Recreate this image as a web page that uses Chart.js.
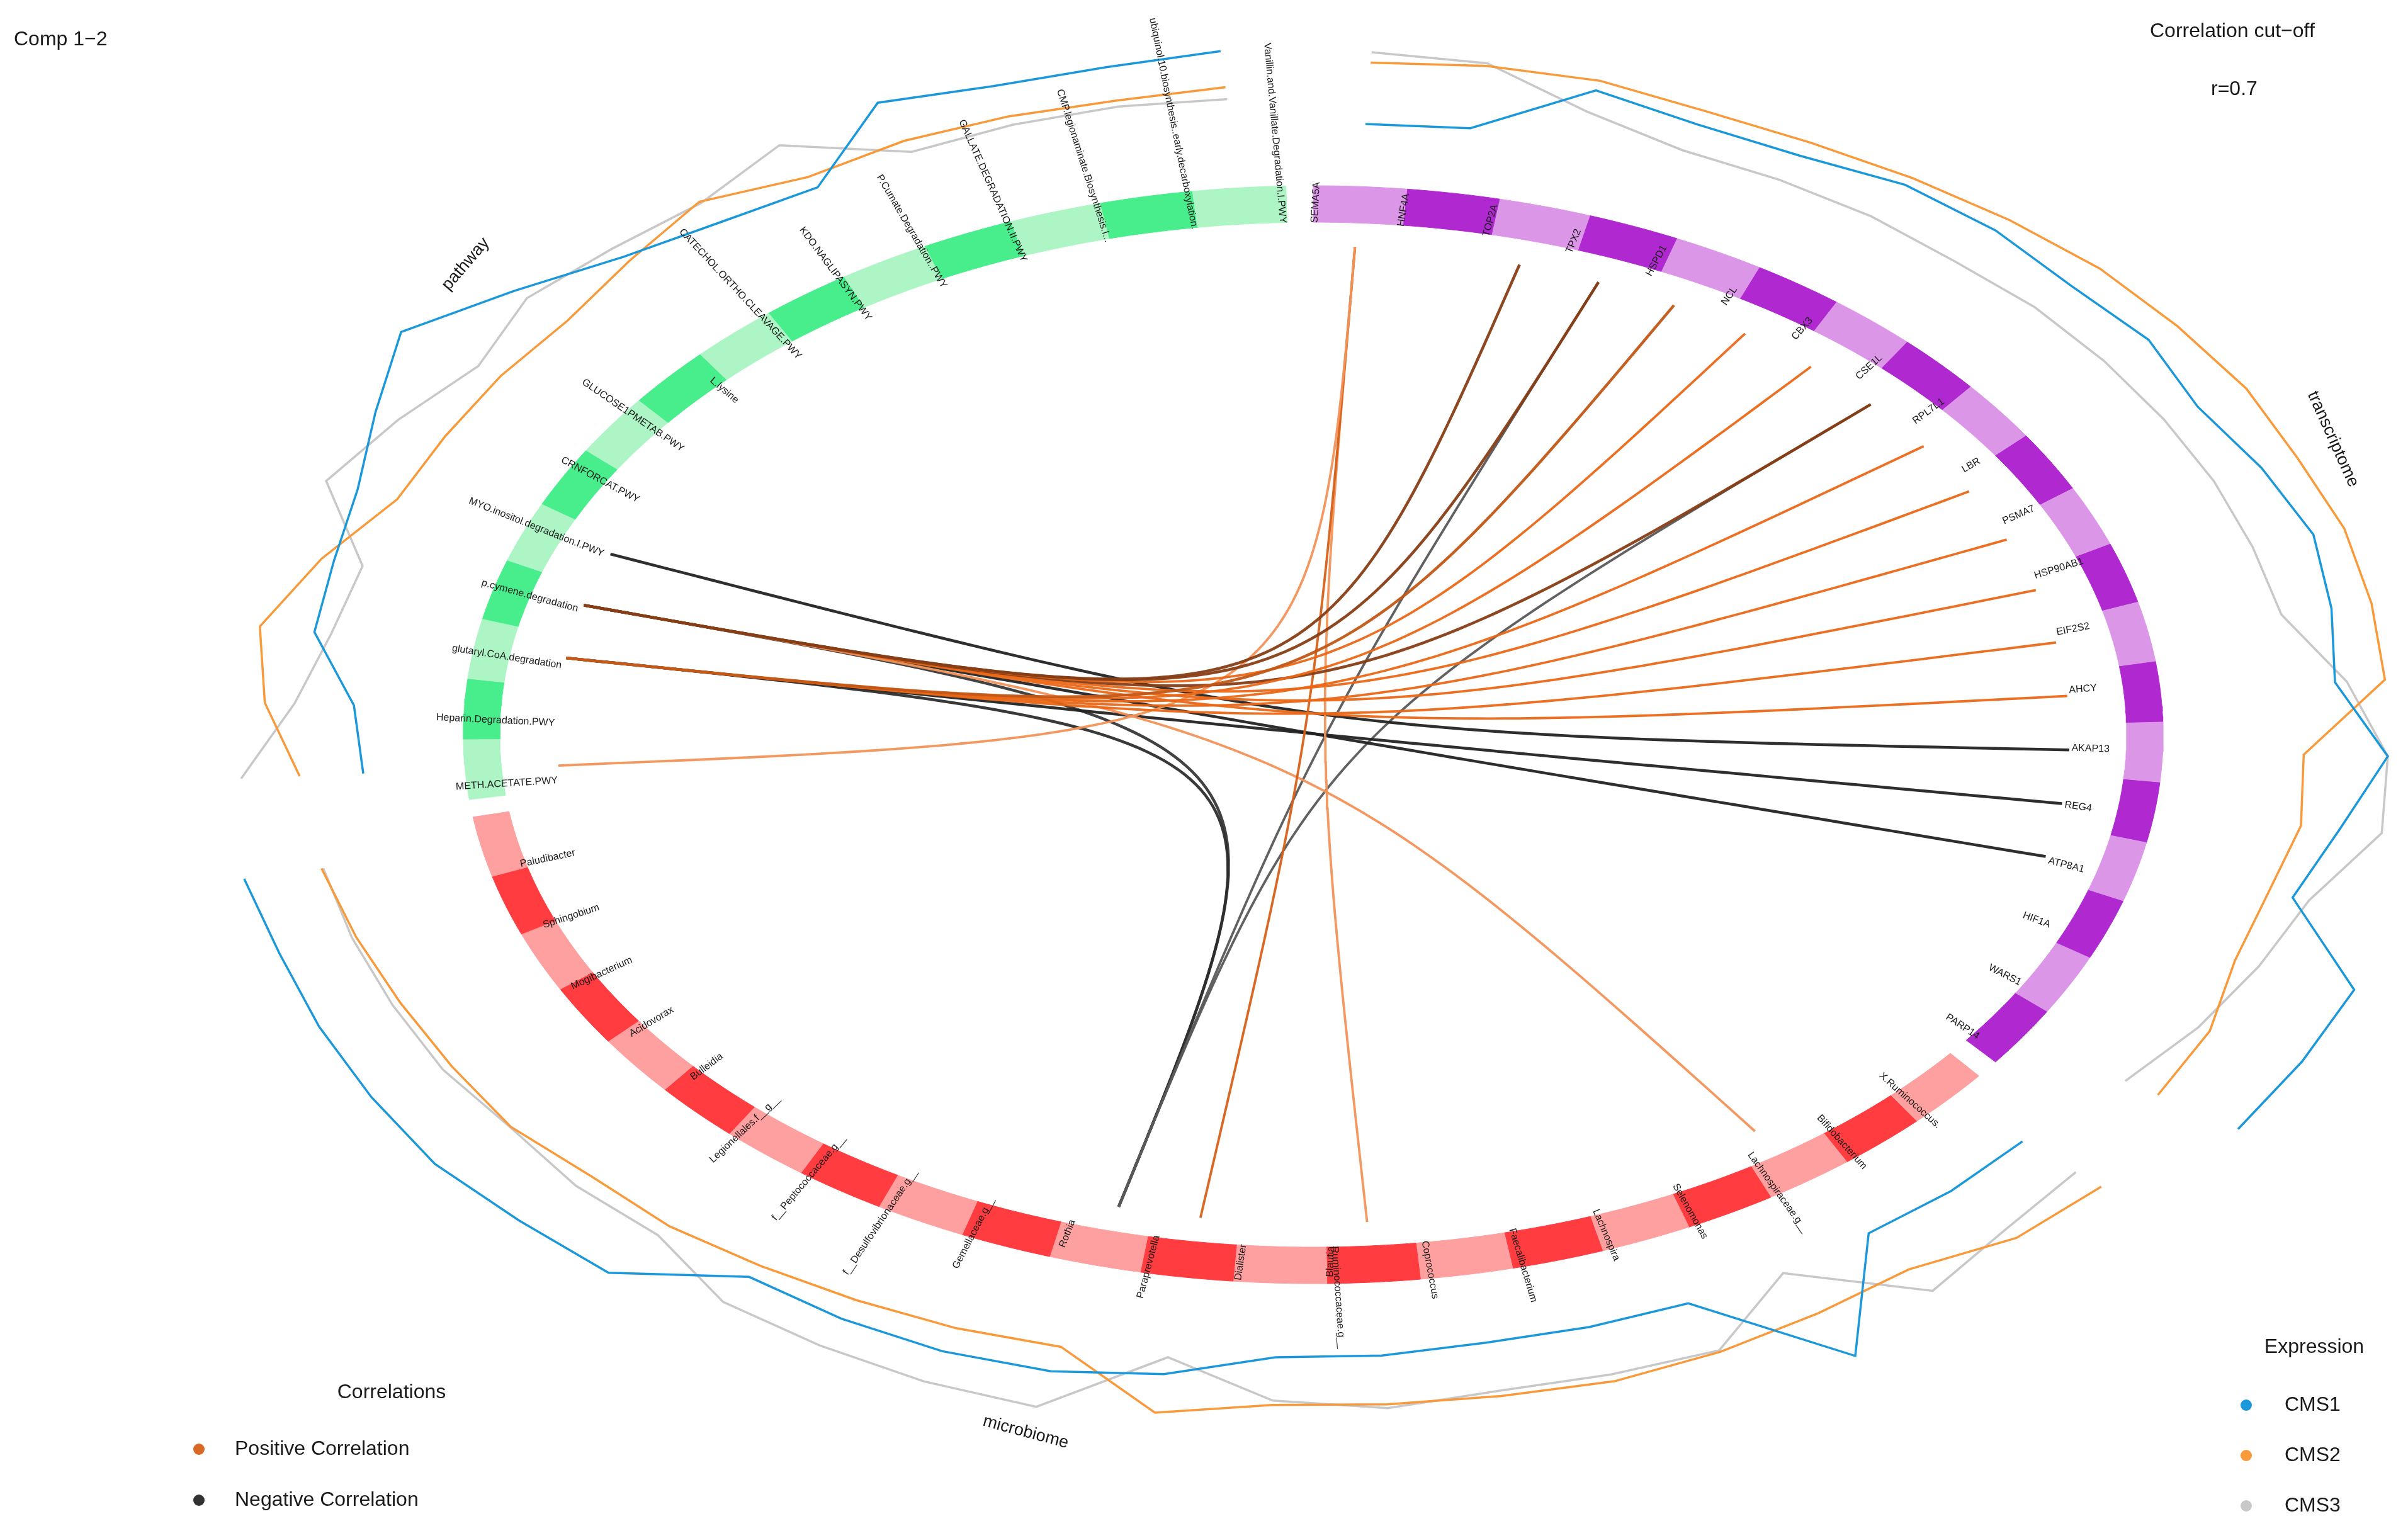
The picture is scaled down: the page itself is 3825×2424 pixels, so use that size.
<!DOCTYPE html>
<html>
<head>
<meta charset="utf-8">
<script src="https://cdn.jsdelivr.net/npm/chart.js@4.4.1/dist/chart.umd.min.js"></script>
<style>
html, body { margin: 0; padding: 0; background: #ffffff; }
#wrap { width: 3825px; height: 2424px; }
</style>
</head>
<body>
<div id="wrap"><canvas id="circos"></canvas></div>
<script>
// ---- data ----
var pathwayNames = ['Vanillin.and.Vanillate.Degradation.I.PWY', 'ubiquinol.10.biosynthesis..early.decarboxylation.',
  'CMP.legionaminate.Biosynthesis.I...', 'GALLATE.DEGRADATION.II.PWY', 'P.Cumate.Degradation..PWY',
  'KDO.NAGLIPASYN.PWY', 'CATECHOL.ORTHO.CLEAVAGE.PWY', 'L.lysine', 'GLUCOSE1PMETAB.PWY', 'CRNFORCAT.PWY',
  'MYO.inositol.degradation.I.PWY', 'p.cymene.degradation', 'glutaryl.CoA.degradation',
  'Heparin.Degradation.PWY', 'METH.ACETATE.PWY'];
var microbiomeNames = ['Paludibacter', 'Sphingobium', 'Mogibacterium', 'Acidovorax', 'Bulleidia',
  'Legionellales.f__g__', 'f__Peptococcaceae.g__', 'f__Desulfovibrionaceae.g__', 'Gemellaceae.g__',
  'Rothia', 'Paraprevotella', 'Dialister', 'Blautia', 'Ruminococcaceae.g__', 'Coprococcus',
  'Faecalibacterium', 'Lachnospira', 'Selenomonas', 'Lachnospiraceae.g__', 'Bifidobacterium', 'X.Ruminococcus.'];
var transcriptomeNames = ['SEMA5A', 'HNF4A', 'TOP2A', 'TPX2', 'HSPD1', 'NCL', 'CBX3', 'CSE1L', 'RPL7L1', 'LBR',
  'PSMA7', 'HSP90AB1', 'EIF2S2', 'AHCY', 'AKAP13', 'REG4', 'ATP8A1', 'HIF1A', 'WARS1', 'PARP14'];

// mean expression per subtype (scaled), one value per feature
var pathwayCMS1 = [0.45, 0.35, 0.35, 0.55, -0.5, -0.4, -0.15, 0.35, 0.95, 0.45, 0.05, -0.1, -0.15, -0.75, -0.85];
var pathwayCMS2 = [-0.21, -0.27, -0.23, -0.21, -0.28, 0.05, -0.25, -0.48, -0.47, -0.48, -0.45, 0.05, 0.5, 0.3, -0.1];
var pathwayCMS3 = [-0.43, -0.38, -0.39, -0.43, 0.39, 0.02, 0.05, 0.15, -0.15, 0.15, 0.45, -0.45, -0.35, -0.05, 0.59];
var microbiomeCMS1 = [0.8, 0.75, 0.8, 0.85, 0.91, 0.82, 0.79, -0.15, -0.05, 0, -0.05, -0.27, -0.7, -0.71, -0.79, -0.78, -0.79, 0.94, -0.86, -0.85, -0.89];
var microbiomeCMS2 = [-0.13, -0.2, -0.25, -0.25, -0.21, -0.35, -0.32, -0.39, -0.43, -0.45, -0.51, 0.44, 0.17, 0.18, 0.2, 0.25, 0.17, 0.05, -0.05, 0.3, 0.35];
var microbiomeCMS3 = [-0.15, -0.15, -0.15, -0.13, -0.2, -0.1, -0.11, 0.4, 0.5, 0.59, 0.62, -0.58, 0.09, 0.25, 0.1, 0.12, 0.14, -0.79, 0.43, 0.1, -0.05];
var transcriptomeCMS1 = [-0.91, -0.85, 0.15, -0.05, -0.05, 0.15, 0.15, 0.05, 0.13, -0.05, 0.12, 0.27, 0.15, 0.01, 0.6, 0.15, -0.15, 1.05, 1.02, 0.99];
var transcriptomeCMS2 = [0.21, 0.3, 0.33, 0.21, 0.22, 0.3, 0.4, 0.51, 0.55, 0.61, 0.58, 0.65, 0.63, 0.6, -0.39, -0.31, -0.45, -0.45, -0.2, -0.14];
var transcriptomeCMS3 = [0.4, 0.35, -0.25, -0.55, -0.55, -0.55, -0.59, -0.53, -0.52, -0.51, -0.49, -0.48, -0.45, 0.15, 0.6, 0.65, 0.05, -0.15, -0.35, -0.6];

// correlations above the cut-off
var linkFrom = ['p.cymene.degradation', 'p.cymene.degradation', 'glutaryl.CoA.degradation', 'p.cymene.degradation',
  'glutaryl.CoA.degradation', 'p.cymene.degradation', 'glutaryl.CoA.degradation', 'p.cymene.degradation',
  'glutaryl.CoA.degradation', 'p.cymene.degradation', 'glutaryl.CoA.degradation', 'p.cymene.degradation',
  'METH.ACETATE.PWY', 'Dialister', 'Ruminococcaceae.g__', 'Lachnospiraceae.g__',
  'MYO.inositol.degradation.I.PWY', 'glutaryl.CoA.degradation', 'p.cymene.degradation', 'Paraprevotella',
  'Paraprevotella', 'glutaryl.CoA.degradation', 'p.cymene.degradation'];
var linkTo = ['TOP2A', 'TPX2', 'HSPD1', 'NCL', 'CBX3', 'CSE1L', 'RPL7L1', 'LBR', 'PSMA7', 'HSP90AB1', 'EIF2S2', 'AHCY',
  'SEMA5A', 'SEMA5A', 'SEMA5A', 'p.cymene.degradation',
  'AKAP13', 'REG4', 'ATP8A1', 'TPX2', 'CSE1L', 'Paraprevotella', 'Paraprevotella'];
var linkCor = [0.88, 0.88, 0.82, 0.78, 0.78, 0.88, 0.78, 0.78, 0.78, 0.78, 0.78, 0.78,
  0.72, 0.8, 0.72, 0.72,
  -0.86, -0.86, -0.86, -0.76, -0.76, -0.84, -0.82];

// ---- layout ----
var W = 3825, H = 2424;
var CX = 2086, CY = 1167, RX = 1350, RY = 872, RING = 58;
var STEP = 6.33, GAP = 1.84;
var LINK_K = 0.89, TRACK_K = 1.205, TRACK_SPAN = 0.1;
var LAB_RX = 1205, LAB_RY = 813;
var FONT = '"Liberation Sans", Arial, Helvetica, sans-serif';

var blocks = [
  { title: 'pathway', titleAt: 0.5, names: pathwayNames, start: 90 + GAP, dir: 1, light: '#ADF5C5', dark: '#48EE8C',
    series: [pathwayCMS1, pathwayCMS2, pathwayCMS3] },
  { title: 'microbiome', titleAt: 0.5, names: microbiomeNames, start: 90 + GAP + pathwayNames.length * STEP + GAP, dir: 1,
    light: '#FFA0A0', dark: '#FF3C40', series: [microbiomeCMS1, microbiomeCMS2, microbiomeCMS3] },
  { title: 'transcriptome', titleAt: 0.52, names: transcriptomeNames, start: 90, dir: -1, light: '#DC96E8', dark: '#B028D0',
    series: [transcriptomeCMS1, transcriptomeCMS2, transcriptomeCMS3] }
];
var groupNames = ['CMS1', 'CMS2', 'CMS3'];
var groupColors = ['#1B98D9', '#F8993A', '#C8C8C8'];

function rad(d) { return d * Math.PI / 180; }
function pt(t, k, off) {
  off = off || 0;
  return { x: CX + (RX * k - off) * Math.cos(rad(t)), y: CY - (RY * k - off) * Math.sin(rad(t)) };
}
function norm(t) { t = t % 360; return t < 0 ? t + 360 : t; }

var featAngle = {};
blocks.forEach(function (b) {
  b.t0 = []; b.t1 = []; b.tc = [];
  b.names.forEach(function (n, i) {
    var a0 = b.start + b.dir * i * STEP, a1 = a0 + b.dir * STEP;
    b.t0.push(a0); b.t1.push(a1); b.tc.push((a0 + a1) / 2);
    featAngle[n] = (a0 + a1) / 2;
  });
});

var datasets = [];
// ring segments
blocks.forEach(function (b) {
  b.names.forEach(function (n, i) {
    var pts = [], s;
    for (s = 0; s <= 12; s++) pts.push(pt(b.t0[i] + (b.t1[i] - b.t0[i]) * s / 12, 1, 0));
    for (s = 12; s >= 0; s--) pts.push(pt(b.t0[i] + (b.t1[i] - b.t0[i]) * s / 12, 1, RING));
    pts.push(pts[0]);
    var col = i % 2 === 0 ? b.light : b.dark;
    datasets.push({ data: pts, showLine: true, fill: 'shape', backgroundColor: col, borderColor: col,
      borderWidth: 1, pointRadius: 0, tension: 0, order: 3 });
  });
});
// expression tracks
blocks.forEach(function (b) {
  b.series.forEach(function (vals, g) {
    var pts = vals.map(function (v, i) { return pt(b.tc[i], TRACK_K + v * TRACK_SPAN, 0); });
    datasets.push({ data: pts, showLine: true, fill: false, borderColor: groupColors[g], borderWidth: 3.5,
      pointRadius: 0, tension: 0, order: 2 });
  });
});
// correlation links: cubic curves pulled through the centre
function mix(a, b, f) { return a.map(function (v, i) { return Math.round(v + (b[i] - v) * f); }); }
function corColor(r) {
  var c;
  if (r > 0) {
    c = r < 0.78 ? mix([245, 160, 110], [234, 104, 24], (r - 0.7) / 0.08) : mix([234, 104, 24], [135, 62, 22], Math.min(1, (r - 0.78) / 0.1));
  } else {
    c = mix([120, 120, 120], [35, 35, 35], Math.min(1, (-r - 0.7) / 0.16));
  }
  return 'rgba(' + c.join(',') + ',0.95)';
}
linkFrom.forEach(function (f, i) {
  var p0 = pt(featAngle[f], LINK_K, 0), p2 = pt(featAngle[linkTo[i]], LINK_K, 0);
  var pts = [];
  for (var s = 0; s <= 80; s++) {
    var u = s / 80, a = Math.pow(1 - u, 3), m = 3 * u * (1 - u), c = u * u * u;
    pts.push({ x: a * p0.x + m * CX + c * p2.x, y: a * p0.y + m * CY + c * p2.y });
  }
  datasets.push({ data: pts, showLine: true, fill: false, borderColor: corColor(linkCor[i]),
    borderWidth: Math.abs(linkCor[i]) > 0.8 ? 4.5 : 3.8, pointRadius: 0, tension: 0, order: 1 });
});

// label anchor drift along the circle (degrees)
var SHIFT_KNOTS = [[0, 0.3], [88, 3.1], [90, 3.1], [90.001, -3], [114, -1.6], [126, -0.9], [145, 0.5], [157, 1.0],
  [182, 1.5], [223, 1.7], [255, 3.0], [270, 3.7], [270.001, -2.8], [280, -2], [286, -1.6], [318, 0], [360, 0.3]];
function labelShift(t) {
  for (var i = 1; i < SHIFT_KNOTS.length; i++) {
    if (t <= SHIFT_KNOTS[i][0]) {
      var a = SHIFT_KNOTS[i - 1], b = SHIFT_KNOTS[i];
      return a[1] + (b[1] - a[1]) * (t - a[0]) / (b[0] - a[0]);
    }
  }
  return 0;
}

var textPlugin = {
  id: 'circosText',
  afterDraw: function (chart) {
    var ctx = chart.ctx, sx = chart.scales.x, sy = chart.scales.y;
    function P(x, y) { return { x: sx.getPixelForValue(x), y: sy.getPixelForValue(y) }; }
    ctx.save();
    ctx.fillStyle = '#1a1a1a';
    // feature labels
    ctx.font = '16px ' + FONT;
    ctx.textBaseline = 'middle';
    blocks.forEach(function (b) {
      b.names.forEach(function (n, i) {
        var t = norm(b.tc[i]);
        var u = t + labelShift(t);
        var p = P(CX + LAB_RX * Math.cos(rad(u)), CY - LAB_RY * Math.sin(rad(u)));
        ctx.save();
        ctx.translate(p.x, p.y);
        if (Math.cos(rad(t)) < 0) { ctx.rotate(-rad(t + 180)); ctx.textAlign = 'right'; }
        else { ctx.rotate(-rad(t)); ctx.textAlign = 'left'; }
        ctx.fillText(n, 0, 0);
        ctx.restore();
      });
    });
    // block titles
    ctx.font = '27px ' + FONT;
    ctx.textAlign = 'center';
    blocks.forEach(function (b) {
      var span = b.t1[b.names.length - 1] - b.t0[0];
      var tc = norm(b.t0[0] + span * b.titleAt);
      var q = pt(tc, 1.315, 0), p = P(q.x, q.y);
      ctx.save();
      ctx.translate(p.x, p.y);
      ctx.rotate(Math.sin(rad(tc)) >= 0 ? -rad(tc - 90) : -rad(tc + 90));
      ctx.fillText(b.title, 0, 0);
      ctx.restore();
    });
    // titles and legends
    ctx.font = '32px ' + FONT;
    ctx.textAlign = 'left';
    ctx.fillText('Comp 1\u22122', 22, 63);
    ctx.fillText('Correlation cut\u2212off', 3415, 50);
    ctx.fillText('r=0.7', 3512, 142);
    ctx.textAlign = 'center';
    ctx.fillText('Correlations', 622, 2212);
    ctx.fillText('Expression', 3676, 2140);
    ctx.textAlign = 'left';
    var corLeg = [['Positive Correlation', corColor(0.8)], ['Negative Correlation', '#333333']];
    corLeg.forEach(function (e, i) {
      var y = 2302 + i * 81;
      ctx.fillStyle = e[1];
      ctx.beginPath(); ctx.arc(316, y, 9, 0, 2 * Math.PI); ctx.fill();
      ctx.fillStyle = '#1a1a1a';
      ctx.fillText(e[0], 373, y);
    });
    groupNames.forEach(function (g, i) {
      var y = 2232 + i * 80;
      ctx.fillStyle = groupColors[i];
      ctx.beginPath(); ctx.arc(3568, y, 9, 0, 2 * Math.PI); ctx.fill();
      ctx.fillStyle = '#1a1a1a';
      ctx.fillText(g, 3629, y);
    });
    ctx.restore();
  }
};

Chart.defaults.font.family = FONT;
new Chart(document.getElementById('circos'), {
  type: 'scatter',
  data: { datasets: datasets },
  options: {
    responsive: true,
    maintainAspectRatio: false,
    animation: false,
    events: [],
    layout: { padding: 0 },
    plugins: { legend: { display: false }, tooltip: { enabled: false }, title: { display: false } },
    scales: {
      x: { type: 'linear', min: 0, max: W, display: false },
      y: { type: 'linear', min: 0, max: H, reverse: true, display: false }
    }
  },
  plugins: [textPlugin]
});
</script>
</body>
</html>
